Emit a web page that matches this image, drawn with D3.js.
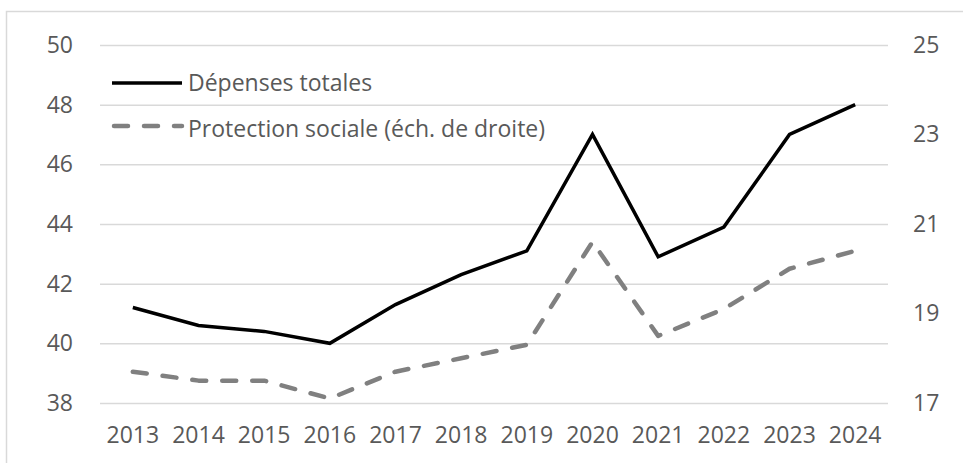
<!DOCTYPE html>
<html>
<head>
<meta charset="utf-8">
<script src="https://cdn.jsdelivr.net/npm/d3@7"></script>
<style>
  html, body { margin: 0; padding: 0; background: #ffffff; }
  svg { display: block; }
  text { font-family: "Open Sans", "Noto Sans", sans-serif; fill: #595959; }
</style>
</head>
<body>
<svg id="chart" width="963" height="463"></svg>
<script>
// Années (axe horizontal)
const years = ["2013", "2014", "2015", "2016", "2017", "2018", "2019", "2020", "2021", "2022", "2023", "2024"];
// Dépenses totales (échelle de gauche)
const depensesTotales = [41.2, 40.6, 40.4, 40.0, 41.3, 42.3, 43.1, 47.0, 42.9, 43.9, 47.0, 48.0];
// Protection sociale (échelle de droite)
const protectionSociale = [17.7, 17.5, 17.5, 17.1, 17.7, 18.0, 18.3, 20.6, 18.5, 19.1, 20.0, 20.4];
// Graduations des deux axes
const leftTicks = [38, 40, 42, 44, 46, 48, 50];
const rightTicks = [17, 19, 21, 23, 25];
// Libellés de la légende
const seriesNames = ["Dépenses totales", "Protection sociale (éch. de droite)"];

const svg = d3.select("#chart");
const plot = { left: 100, right: 888, top: 45, bottom: 403 };
const fontSize = 23;

// Cadre extérieur
svg.append("rect")
  .attr("x", 6.5).attr("y", 11.5)
  .attr("width", 1000).attr("height", 1000)
  .attr("fill", "none").attr("stroke", "#d9d9d9").attr("stroke-width", 1.5);

const x = d3.scaleBand().domain(years).range([plot.left, plot.right]);
const yLeft = d3.scaleLinear().domain([38, 50]).range([plot.bottom, plot.top]);
const yRight = d3.scaleLinear().domain([17, 25]).range([plot.bottom, plot.top]);

// Quadrillage horizontal
svg.append("g")
  .attr("transform", `translate(${plot.left},0)`)
  .call(d3.axisLeft(yLeft).tickValues(leftTicks).tickSize(-(plot.right - plot.left)).tickFormat(""))
  .call(g => g.select(".domain").remove())
  .call(g => g.selectAll("line").attr("stroke", "#d9d9d9").attr("stroke-width", 1.5));

const styleLabels = g => g.selectAll("text")
  .attr("font-size", fontSize).attr("fill", "#595959")
  .style("font-family", "'Open Sans', sans-serif");

// Axe de gauche
svg.append("g")
  .attr("transform", `translate(${plot.left - 27},0)`)
  .call(d3.axisLeft(yLeft).tickValues(leftTicks).tickSize(0).tickPadding(0))
  .call(g => g.select(".domain").remove())
  .call(styleLabels);

// Axe de droite
svg.append("g")
  .attr("transform", `translate(${plot.right + 25},0)`)
  .call(d3.axisRight(yRight).tickValues(rightTicks).tickSize(0).tickPadding(0))
  .call(g => g.select(".domain").remove())
  .call(styleLabels);

// Axe des années
svg.append("g")
  .attr("transform", `translate(0,${plot.bottom + 24})`)
  .call(d3.axisBottom(x).tickSize(0).tickPadding(0))
  .call(g => g.select(".domain").remove())
  .call(styleLabels);

const cx = d => x(d) + x.bandwidth() / 2;

// Protection sociale : tirets gris
svg.append("path")
  .datum(protectionSociale)
  .attr("fill", "none")
  .attr("stroke", "#808080")
  .attr("stroke-width", 4.5)
  .attr("stroke-dasharray", "14,16")
  .attr("stroke-linecap", "round")
  .attr("stroke-linejoin", "round")
  .attr("d", d3.line().x((d, i) => cx(years[i])).y(d => yRight(d)));

// Dépenses totales : trait noir continu
svg.append("path")
  .datum(depensesTotales)
  .attr("fill", "none")
  .attr("stroke", "#000000")
  .attr("stroke-width", 3.5)
  .attr("stroke-linejoin", "miter")
  .attr("d", d3.line().x((d, i) => cx(years[i])).y(d => yLeft(d)));

// Légende
const legend = svg.append("g");
const legendRows = [
  { name: seriesNames[0], y: 83, ty: 91, color: "#000000", width: 3.5, dash: null, cap: "butt" },
  { name: seriesNames[1], y: 126, ty: 137, color: "#808080", width: 4.5, dash: "14,16", cap: "round" }
];
legendRows.forEach(r => {
  legend.append("line")
    .attr("x1", r.cap === "round" ? 114 : 112).attr("x2", 182)
    .attr("y1", r.y).attr("y2", r.y)
    .attr("stroke", r.color).attr("stroke-width", r.width)
    .attr("stroke-linecap", r.cap)
    .attr("stroke-dasharray", r.dash);
  legend.append("text")
    .attr("x", 188).attr("y", r.ty)
    .attr("font-size", fontSize)
    .text(r.name);
});
</script>
</body>
</html>
